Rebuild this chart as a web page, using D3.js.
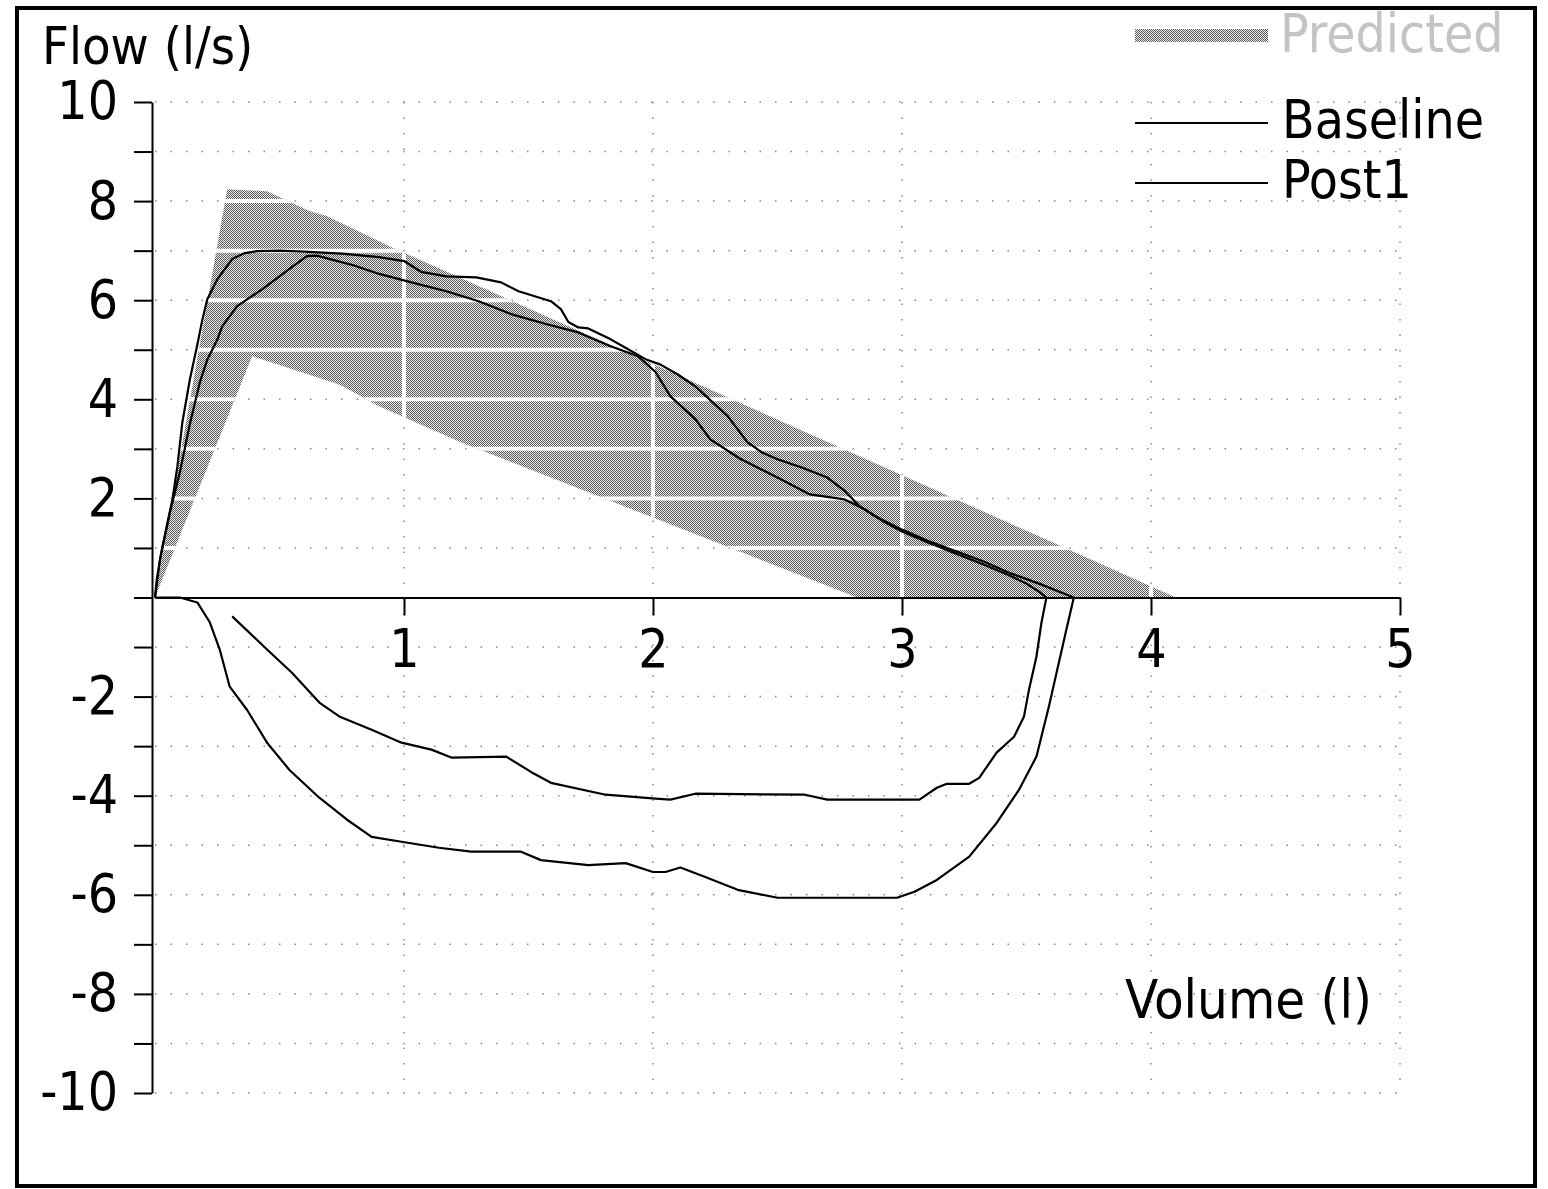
<!DOCTYPE html>
<meta charset="utf-8">
<style>
    body { margin: 0; background: #fff; }
    text { font-family: "DejaVu Sans Condensed", "DejaVu Sans", sans-serif; }
    .curve { fill: none; stroke: #000; stroke-width: 2.2px; stroke-linejoin: round; }
    .grid line { stroke: #888; stroke-width: 1.5px; stroke-dasharray: 1.5, 14; }
</style>

<body>

    <script src="https://d3js.org/d3.v7.min.js"></script>
    <script>

        // tick values
        var volTicks = [1, 2, 3, 4, 5];
        var flowTicks = d3.range(-10, 11, 1);
        var flowLabels = [-10, -8, -6, -4, -2, 2, 4, 6, 8, 10];

        // predicted band, [volume, flow]
        var predictedUpper = [[0, 0], [0.29, 8.24], [0.45, 8.2], [0.62, 7.8], [0.69, 7.7], [0.95, 7.07], [4.1, 0]];
        var predictedLower = [[2.82, 0], [1.23, 3.13], [0.9, 3.86], [0.74, 4.3], [0.39, 4.87], [0, 0]];

        // Baseline loop
        var baselineExp = [[0, 0], [0.02, 0.77], [0.06, 1.72], [0.1, 2.53], [0.14, 3.5], [0.18, 4.34], [0.21, 4.8],
            [0.25, 5.2], [0.27, 5.47], [0.33, 5.88], [0.43, 6.22], [0.54, 6.63], [0.61, 6.89], [0.65, 6.9],
            [0.8, 6.7], [0.9, 6.53], [1.03, 6.36], [1.17, 6.18], [1.3, 5.98], [1.43, 5.72], [1.57, 5.52],
            [1.7, 5.35], [1.83, 5.07], [1.94, 4.87], [2.01, 4.55], [2.07, 4.06], [2.17, 3.6], [2.23, 3.19],
            [2.35, 2.8], [2.5, 2.42], [2.63, 2.08], [2.77, 1.98], [2.85, 1.78], [2.92, 1.55], [3.0, 1.33],
            [3.1, 1.12], [3.22, 0.88], [3.33, 0.66], [3.43, 0.45], [3.5, 0.28], [3.55, 0.12], [3.58, 0]];
        var baselineInsp = [[3.58, 0], [3.56, -0.51], [3.54, -1.19], [3.51, -1.86], [3.49, -2.4], [3.45, -2.81],
            [3.38, -3.13], [3.31, -3.64], [3.27, -3.76], [3.18, -3.76], [3.14, -3.84], [3.07, -4.08],
            [2.7, -4.08], [2.61, -3.98], [2.17, -3.96], [2.07, -4.08], [2.01, -4.06], [1.81, -3.98],
            [1.59, -3.74], [1.51, -3.52], [1.41, -3.21], [1.19, -3.23], [1.11, -3.07], [0.99, -2.93],
            [0.87, -2.67], [0.74, -2.4], [0.66, -2.12], [0.55, -1.52], [0.45, -1.05], [0.31, -0.38]];

        // Post1 loop
        var post1Exp = [[0, 0], [0.007, 0.36], [0.03, 1.03], [0.07, 1.98], [0.09, 2.65], [0.11, 3.54], [0.14, 4.4],
            [0.17, 5.1], [0.19, 5.6], [0.21, 6.02], [0.25, 6.42], [0.31, 6.83], [0.36, 6.95], [0.41, 6.99],
            [0.5, 7.0], [0.6, 6.98], [0.75, 6.94], [0.9, 6.87], [1.0, 6.79], [1.07, 6.57], [1.17, 6.48],
            [1.29, 6.46], [1.39, 6.36], [1.46, 6.18], [1.59, 5.98], [1.63, 5.82], [1.66, 5.56], [1.7, 5.45],
            [1.74, 5.43], [1.83, 5.21], [1.9, 5.01], [1.97, 4.81], [2.03, 4.7], [2.1, 4.5], [2.17, 4.26],
            [2.3, 3.66], [2.38, 3.13], [2.44, 2.92], [2.5, 2.79], [2.6, 2.62], [2.7, 2.42], [2.77, 2.15],
            [2.83, 1.84], [2.9, 1.62], [3.0, 1.37], [3.1, 1.15], [3.22, 0.93], [3.33, 0.72], [3.43, 0.5],
            [3.55, 0.28], [3.65, 0.08], [3.69, 0]];
        var post1Insp = [[3.69, 0], [3.66, -0.65], [3.63, -1.31], [3.59, -2.2], [3.54, -3.21], [3.47, -3.88],
            [3.38, -4.55], [3.27, -5.23], [3.14, -5.7], [3.05, -5.94], [2.98, -6.06], [2.5, -6.06],
            [2.34, -5.9], [2.21, -5.64], [2.11, -5.45], [2.05, -5.54], [2.0, -5.54], [1.89, -5.36],
            [1.74, -5.4], [1.55, -5.3], [1.47, -5.13], [1.27, -5.13], [1.14, -5.05], [0.99, -4.93],
            [0.87, -4.83], [0.77, -4.48], [0.66, -4.04], [0.54, -3.48], [0.45, -2.93], [0.37, -2.27],
            [0.3, -1.8], [0.26, -1.05], [0.22, -0.5], [0.17, -0.1], [0.1, 0], [0, 0]];

        var W = 1548, H = 1189;

        var svg = d3.select("body").append("svg")
            .attr("width", W)
            .attr("height", H);

        // halftone-ish fill for the predicted band
        var defs = svg.append("defs");
        var pat = defs.append("pattern")
            .attr("id", "dots")
            .attr("width", 2).attr("height", 2)
            .attr("patternUnits", "userSpaceOnUse");
        pat.append("rect").attr("width", 2).attr("height", 2).attr("fill", "#ececec");
        pat.append("rect").attr("width", 1).attr("height", 1).attr("fill", "#5a5a5a");
        pat.append("rect").attr("x", 1).attr("y", 1).attr("width", 1).attr("height", 1).attr("fill", "#5a5a5a");

        // scales
        var x = d3.scaleLinear().domain([0, 5]).range([155, 1400]);
        var y = d3.scaleLinear().domain([-10, 10]).range([1093, 102]);

        var line = d3.line()
            .x(function (d) { return x(d[0]); })
            .y(function (d) { return y(d[1]); });

        var bandPts = predictedUpper.concat(predictedLower);

        // frame
        svg.append("rect")
            .attr("x", 17).attr("y", 8)
            .attr("width", 1518).attr("height", 1178)
            .attr("fill", "none")
            .attr("stroke", "#000")
            .attr("stroke-width", 4);

        // dotted grid
        var grid = svg.append("g").attr("class", "grid");
        grid.selectAll(".h")
            .data(flowTicks.filter(function (d) { return d !== 0; }))
            .enter().append("line")
            .attr("x1", x(0)).attr("x2", x(5))
            .attr("y1", function (d) { return y(d); })
            .attr("y2", function (d) { return y(d); });
        grid.selectAll(".v")
            .data(volTicks)
            .enter().append("line")
            .attr("x1", function (d) { return x(d); })
            .attr("x2", function (d) { return x(d); })
            .attr("y1", y(10)).attr("y2", y(-10));

        // predicted band
        svg.append("path")
            .attr("d", line(bandPts) + "Z")
            .attr("fill", "url(#dots)");

        // grid shows white inside the band
        defs.append("clipPath").attr("id", "bandClip")
            .append("path").attr("d", line(bandPts) + "Z");
        var wg = svg.append("g").attr("clip-path", "url(#bandClip)");
        wg.selectAll(".wh")
            .data(flowTicks.filter(function (d) { return d > 0; }))
            .enter().append("line")
            .attr("x1", x(0)).attr("x2", x(5))
            .attr("y1", function (d) { return y(d); })
            .attr("y2", function (d) { return y(d); })
            .attr("stroke", "#fff").attr("stroke-width", 4);
        wg.selectAll(".wv")
            .data(volTicks)
            .enter().append("line")
            .attr("x1", function (d) { return x(d); })
            .attr("x2", function (d) { return x(d); })
            .attr("y1", y(10)).attr("y2", y(0))
            .attr("stroke", "#fff").attr("stroke-width", 4);

        // Y axis
        var yAxis = svg.append("g")
            .attr("transform", "translate(152,0)")
            .call(d3.axisLeft(y)
                .tickValues(flowTicks)
                .tickSize(18)
                .tickSizeOuter(0)
                .tickPadding(16)
                .tickFormat(function (d) { return flowLabels.indexOf(d) >= 0 ? d : ""; }));
        yAxis.selectAll("path, line").attr("stroke", "#000").attr("stroke-width", 2);
        yAxis.selectAll("text").attr("font-size", "53px").attr("fill", "#000")
            .attr("font-family", "DejaVu Sans Condensed, DejaVu Sans, sans-serif");

        // X axis
        var xAxis = svg.append("g")
            .attr("transform", "translate(0," + y(0) + ")")
            .call(d3.axisBottom(x)
                .tickValues(volTicks)
                .tickSize(18)
                .tickSizeOuter(0)
                .tickPadding(14)
                .tickFormat(d3.format("d")));
        xAxis.selectAll("path, line").attr("stroke", "#000").attr("stroke-width", 2);
        xAxis.selectAll("text").attr("font-size", "53px").attr("fill", "#000")
            .attr("font-family", "DejaVu Sans Condensed, DejaVu Sans, sans-serif");

        // curves
        [baselineExp, baselineInsp, post1Exp, post1Insp].forEach(function (c) {
            svg.append("path")
                .datum(c)
                .attr("class", "curve")
                .attr("d", line);
        });

        // axis titles
        svg.append("text")
            .attr("x", 42).attr("y", 64)
            .attr("font-size", "52px")
            .text("Flow (l/s)");
        svg.append("text")
            .attr("x", 1372).attr("y", 1018)
            .attr("text-anchor", "end")
            .attr("font-size", "54px")
            .text("Volume (l)");

        // legend
        var lg = svg.append("g");
        lg.append("rect")
            .attr("x", 1135).attr("y", 29)
            .attr("width", 133).attr("height", 13)
            .attr("fill", "url(#dots)");
        lg.append("text")
            .attr("x", 1280).attr("y", 52)
            .attr("font-size", "53px")
            .attr("fill", "#c4c4c4")
            .text("Predicted");
        lg.append("line")
            .attr("x1", 1135).attr("x2", 1268)
            .attr("y1", 123).attr("y2", 123)
            .attr("stroke", "#000").attr("stroke-width", 2.2);
        lg.append("text")
            .attr("x", 1282).attr("y", 138)
            .attr("font-size", "53px")
            .text("Baseline");
        lg.append("line")
            .attr("x1", 1135).attr("x2", 1268)
            .attr("y1", 183).attr("y2", 183)
            .attr("stroke", "#000").attr("stroke-width", 2.2);
        lg.append("text")
            .attr("x", 1282).attr("y", 198)
            .attr("font-size", "53px")
            .text("Post1");

    </script>
</body>
